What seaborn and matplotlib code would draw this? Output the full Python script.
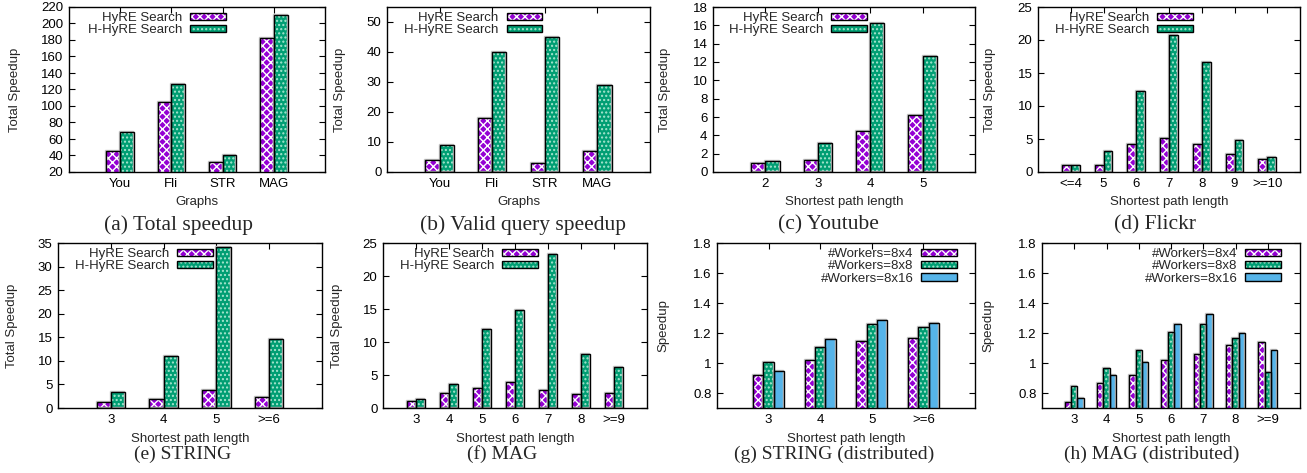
import pandas as pd
import matplotlib
matplotlib.use('Agg')
import matplotlib.pyplot as plt
import matplotlib.transforms as mtransforms
from matplotlib.patches import Patch, Rectangle
from matplotlib.ticker import FuncFormatter, MultipleLocator
import seaborn as sns

# ---- data ----
graphs = ['You', 'Fli', 'STR', 'MAG']
total_hyre = [45, 105, 32, 182]
total_hhyre = [68, 127, 41, 210]
valid_hyre = [4, 18, 3, 7]
valid_hhyre = [9, 40, 45, 29]

youtube_len = ['2', '3', '4', '5']
youtube_hyre = [1.0, 1.3, 4.5, 6.2]
youtube_hhyre = [1.2, 3.2, 16.2, 12.7]

flickr_len = ['<=4', '5', '6', '7', '8', '9', '>=10']
flickr_hyre = [1.0, 1.0, 4.2, 5.2, 4.3, 2.7, 1.9]
flickr_hhyre = [1.1, 3.2, 12.2, 20.7, 16.7, 4.9, 2.2]

string_len = ['3', '4', '5', '>=6']
string_hyre = [1.2, 1.9, 3.8, 2.3]
string_hhyre = [3.4, 11.1, 34.2, 14.7]

mag_len = ['3', '4', '5', '6', '7', '8', '>=9']
mag_hyre = [1.0, 2.2, 3.1, 3.9, 2.7, 2.1, 2.2]
mag_hhyre = [1.4, 3.6, 11.9, 14.9, 23.4, 8.2, 6.2]

string_w4 = [0.92, 1.02, 1.15, 1.17]
string_w8 = [1.01, 1.11, 1.26, 1.24]
string_w16 = [0.95, 1.16, 1.29, 1.27]

mag_w4 = [0.74, 0.87, 0.92, 1.02, 1.06, 1.12, 1.14]
mag_w8 = [0.85, 0.97, 1.09, 1.21, 1.26, 1.17, 0.94]
mag_w16 = [0.77, 0.92, 1.01, 1.26, 1.33, 1.20, 1.09]

series_2 = ['HyRE Search', 'H-HyRE Search']
series_3 = ['#Workers=8x4', '#Workers=8x8', '#Workers=8x16']

# face colour, hatch, hatch colour (gnuplot default line colours)
style = [('#9400d3', 'xxxx', 'white'),
         ('#009e73', '....', '#a8e6cf'),
         ('#56b4e9', None, '#56b4e9')]

W, H = 1307, 473
sns.set_theme(style='white')
plt.rcParams['font.family'] = ['Liberation Sans', 'DejaVu Sans']
plt.rcParams['hatch.linewidth'] = 1.0
FS = 9.5

fig = plt.figure(figsize=(W / 100, H / 100), dpi=100)


def panel(box, cats, names, values, ylim, ystep, ylabel, xlabel, leg_x,
          ylab_x, caption, cap_x, cap_y, cap_fs):
    l, t, r, b = box
    ax = fig.add_axes([l / W, 1 - b / H, (r - l) / W, (b - t) / H])
    df = pd.DataFrame({
        'cat': [c for _ in names for c in cats],
        'series': [n for n in names for _ in cats],
        'val': [v for vals in values for v in vals],
    })
    pal = {n: style[i][0] for i, n in enumerate(names)}
    sns.barplot(data=df, x='cat', y='val', hue='series', order=cats,
                hue_order=names, palette=pal, saturation=1,
                width=0.54 if len(names) == 2 else 0.6,
                errorbar=None, legend=False, ax=ax, linewidth=0)
    shadow = ax.transData + mtransforms.ScaledTranslation(-1.0 / 100, 1.0 / 100,
                                                          fig.dpi_scale_trans)
    for i, cont in enumerate(ax.containers):
        face, hatch, hcol = style[i]
        for bar in cont:
            bar.set_hatch(hatch)
            bar.set_edgecolor(hcol)
            bar.set_linewidth(0)
            x0, y0 = bar.get_xy()
            # soft grey shadow like gnuplot's, then the black border
            ax.add_patch(Rectangle((x0, y0), bar.get_width(), bar.get_height(),
                                   fill=False, ec='#c4c4c4', lw=1.0, zorder=1.5,
                                   transform=shadow))
            ax.add_patch(Rectangle((x0, y0), bar.get_width(), bar.get_height(),
                                   fill=False, ec='black', lw=1.0, zorder=3))
    ax.set_xlim(-1, len(cats))
    ax.set_ylim(*ylim)
    ax.yaxis.set_major_locator(MultipleLocator(ystep))
    ax.yaxis.set_major_formatter(FuncFormatter(lambda v, p: '%g' % round(v, 3)))
    ax.tick_params(direction='in', length=4, width=0.8, top=True, right=True,
                   bottom=True, left=True, labelsize=FS, colors='black', pad=4)
    for sp in ax.spines.values():
        sp.set_color('black')
        sp.set_linewidth(1.0)
    ax.set_xlabel(xlabel, fontsize=FS, labelpad=5)
    ax.set_ylabel(ylabel, fontsize=FS)
    ax.yaxis.set_label_coords(ylab_x / W, 0.5,
                              transform=mtransforms.blended_transform_factory(
                                  fig.transFigure, ax.transAxes))
    handles = []
    for i, n in enumerate(names):
        face, hatch, hcol = style[i]
        handles.append((Patch(fc=face, ec=hcol, hatch=hatch, lw=0),
                        Patch(fill=False, ec='black', lw=1.0)))
    ax.legend(handles, names, loc='upper right', bbox_to_anchor=(leg_x, 1 - 5 / (b - t)),
              frameon=False, markerfirst=False, fontsize=FS, borderaxespad=0,
              borderpad=0, handlelength=2.7, handleheight=0.5,
              handletextpad=0.6, labelspacing=0.03)
    fig.text(cap_x / W, 1 - cap_y / H, caption, ha='center', va='center',
             fontsize=cap_fs, family=['Liberation Serif', 'DejaVu Serif'])
    return ax


r1 = (7, 172)
r2 = (243, 408)
panel((69, r1[0], 325, r1[1]), graphs, series_2, [total_hyre, total_hhyre],
      (20, 220), 20, 'Total Speedup', 'Graphs', 0.613, 21,
      '(a) Total speedup', 178, 225, 15.5)
panel((387, r1[0], 650, r1[1]), graphs, series_2, [valid_hyre, valid_hhyre],
      (0, 55), 10, 'Total Speedup', 'Graphs', 0.59, 346,
      '(b) Valid query speedup', 523, 225, 15.5)
panel((713, r1[0], 975, r1[1]), youtube_len, series_2, [youtube_hyre, youtube_hhyre],
      (0, 18), 2, 'Total Speedup', 'Shortest path length', 0.588, 671,
      '(c) Youtube', 828, 225, 15.5)
panel((1038, r1[0], 1300, r1[1]), flickr_len, series_2, [flickr_hyre, flickr_hhyre],
      (0, 25), 5, 'Total Speedup', 'Shortest path length', 0.59, 996,
      '(d) Flickr', 1155, 225, 15.5)
panel((58, r2[0], 322, r2[1]), string_len, series_2, [string_hyre, string_hhyre],
      (0, 35), 5, 'Total Speedup', 'Shortest path length', 0.587, 18,
      '(e) STRING', 183, 454, 14)
panel((383, r2[0], 647, r2[1]), mag_len, series_2, [mag_hyre, mag_hhyre],
      (0, 25), 5, 'Total Speedup', 'Shortest path length', 0.587, 343,
      '(f) MAG', 502, 454, 14)
panel((717, r2[0], 975, r2[1]), string_len, series_3, [string_w4, string_w8, string_w16],
      (0.7, 1.8), 0.2, 'Speedup', 'Shortest path length', 0.93, 669,
      '(g) STRING (distributed)', 834, 454, 14)
panel((1042, r2[0], 1300, r2[1]), mag_len, series_3, [mag_w4, mag_w8, mag_w16],
      (0.7, 1.8), 0.2, 'Speedup', 'Shortest path length', 0.926, 994,
      '(h) MAG (distributed)', 1152, 454, 14)

for ax in fig.axes[-2:]:
    ax.set_yticks([0.8, 1.0, 1.2, 1.4, 1.6, 1.8])

fig.savefig('out.png', dpi=100, facecolor='white')
